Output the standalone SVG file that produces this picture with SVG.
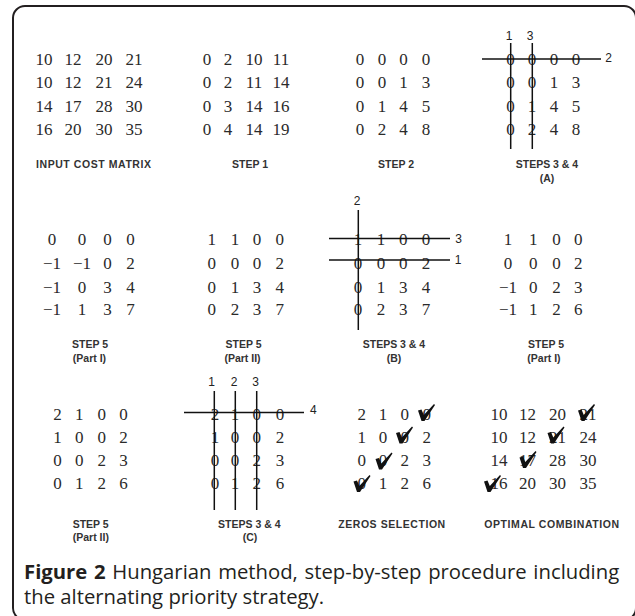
<svg xmlns="http://www.w3.org/2000/svg" xmlns:xlink="http://www.w3.org/1999/xlink" width="635" height="616" viewBox="0 0 635 616">
<style>
.m{font-family:"Liberation Serif","Times New Roman",serif;font-size:17px;fill:#2a2a2a;text-anchor:middle}
.lb{font-family:"Liberation Sans",Arial,sans-serif;font-size:10.5px;font-weight:bold;fill:#333;text-anchor:middle}
.n{font-family:"Liberation Sans",Arial,sans-serif;font-size:12px;fill:#222;text-anchor:middle}
.ln{stroke:#111;stroke-width:1.5;fill:none}
.cap{font-family:"Open Sans","Noto Sans",sans-serif;font-size:20.3px;fill:#231f20}
</style>
<defs>
<path id="chk" d="M-5.5,-9 L-2,-10 L0.3,-4.5 L10.5,-15.5 L11.5,-14.5 L1,1.5 L-2,1.5 Z" fill="#111"/>
</defs>
<rect x="0" y="0" width="635" height="616" fill="#fff"/>
<rect id="frame" x="13" y="6" width="623" height="614" rx="12" ry="12" fill="none" stroke="#231f20" stroke-width="2"/>

<g id="input-cost-matrix">
<text class="m" x="44" y="65">10</text><text class="m" x="73" y="65">12</text><text class="m" x="104" y="65">20</text><text class="m" x="134" y="65">21</text>
<text class="m" x="44" y="88">10</text><text class="m" x="73" y="88">12</text><text class="m" x="104" y="88">21</text><text class="m" x="134" y="88">24</text>
<text class="m" x="44" y="111.5">14</text><text class="m" x="73" y="111.5">17</text><text class="m" x="104" y="111.5">28</text><text class="m" x="134" y="111.5">30</text>
<text class="m" x="44" y="135">16</text><text class="m" x="73" y="135">20</text><text class="m" x="104" y="135">30</text><text class="m" x="134" y="135">35</text>
<text class="lb" x="93.5" y="168" textLength="115">INPUT COST MATRIX</text>
</g>

<g id="step1">
<text class="m" x="207" y="65">0</text><text class="m" x="228" y="65">2</text><text class="m" x="254" y="65">10</text><text class="m" x="281" y="65">11</text>
<text class="m" x="207" y="88">0</text><text class="m" x="228" y="88">2</text><text class="m" x="254" y="88">11</text><text class="m" x="281" y="88">14</text>
<text class="m" x="207" y="111.5">0</text><text class="m" x="228" y="111.5">3</text><text class="m" x="254" y="111.5">14</text><text class="m" x="281" y="111.5">16</text>
<text class="m" x="207" y="135">0</text><text class="m" x="228" y="135">4</text><text class="m" x="254" y="135">14</text><text class="m" x="281" y="135">19</text>
<text class="lb" x="250" y="168">STEP 1</text>
</g>

<g id="step2">
<text class="m" x="360" y="65">0</text><text class="m" x="382" y="65">0</text><text class="m" x="403.5" y="65">0</text><text class="m" x="426" y="65">0</text>
<text class="m" x="360" y="88">0</text><text class="m" x="382" y="88">0</text><text class="m" x="403.5" y="88">1</text><text class="m" x="426" y="88">3</text>
<text class="m" x="360" y="111.5">0</text><text class="m" x="382" y="111.5">1</text><text class="m" x="403.5" y="111.5">4</text><text class="m" x="426" y="111.5">5</text>
<text class="m" x="360" y="135">0</text><text class="m" x="382" y="135">2</text><text class="m" x="403.5" y="135">4</text><text class="m" x="426" y="135">8</text>
<text class="lb" x="396" y="168">STEP 2</text>
</g>

<g id="steps34a">
<text class="m" x="510.5" y="65">0</text><text class="m" x="532" y="65">0</text><text class="m" x="554" y="65">0</text><text class="m" x="576" y="65">0</text>
<text class="m" x="510.5" y="88">0</text><text class="m" x="532" y="88">0</text><text class="m" x="554" y="88">1</text><text class="m" x="576" y="88">3</text>
<text class="m" x="510.5" y="111.5">0</text><text class="m" x="532" y="111.5">1</text><text class="m" x="554" y="111.5">4</text><text class="m" x="576" y="111.5">5</text>
<text class="m" x="510.5" y="135">0</text><text class="m" x="532" y="135">2</text><text class="m" x="554" y="135">4</text><text class="m" x="576" y="135">8</text>
<text class="n" x="509" y="39.5">1</text><text class="n" x="530" y="39.5">3</text><text class="n" x="608.5" y="62">2</text>
<text class="lb" x="547" y="168">STEPS 3 &amp; 4</text>
<text class="lb" x="547" y="182">(A)</text>
</g>

<g id="step5-part1-a">
<text class="m" x="52" y="245">0</text><text class="m" x="82" y="245">0</text><text class="m" x="107.5" y="245">0</text><text class="m" x="130.5" y="245">0</text>
<text class="m" x="52" y="269">−1</text><text class="m" x="82" y="269">−1</text><text class="m" x="107.5" y="269">0</text><text class="m" x="130.5" y="269">2</text>
<text class="m" x="52" y="292.5">−1</text><text class="m" x="82" y="292.5">0</text><text class="m" x="107.5" y="292.5">3</text><text class="m" x="130.5" y="292.5">4</text>
<text class="m" x="52" y="315">−1</text><text class="m" x="82" y="315">1</text><text class="m" x="107.5" y="315">3</text><text class="m" x="130.5" y="315">7</text>
<text class="lb" x="90" y="348">STEP 5</text>
<text class="lb" x="89.5" y="361.5">(Part I)</text>
</g>

<g id="step5-part2-a">
<text class="m" x="211.7" y="245">1</text><text class="m" x="235" y="245">1</text><text class="m" x="257" y="245">0</text><text class="m" x="279.7" y="245">0</text>
<text class="m" x="211.7" y="269">0</text><text class="m" x="235" y="269">0</text><text class="m" x="257" y="269">0</text><text class="m" x="279.7" y="269">2</text>
<text class="m" x="211.7" y="292.5">0</text><text class="m" x="235" y="292.5">1</text><text class="m" x="257" y="292.5">3</text><text class="m" x="279.7" y="292.5">4</text>
<text class="m" x="211.7" y="315">0</text><text class="m" x="235" y="315">2</text><text class="m" x="257" y="315">3</text><text class="m" x="279.7" y="315">7</text>
<text class="lb" x="243.5" y="348">STEP 5</text>
<text class="lb" x="242.5" y="361.5">(Part II)</text>
</g>

<g id="steps34b">
<text class="m" x="358" y="245">1</text><text class="m" x="381" y="245">1</text><text class="m" x="403.3" y="245">0</text><text class="m" x="426" y="245">0</text>
<text class="m" x="358" y="269">0</text><text class="m" x="381" y="269">0</text><text class="m" x="403.3" y="269">0</text><text class="m" x="426" y="269">2</text>
<text class="m" x="358" y="292.5">0</text><text class="m" x="381" y="292.5">1</text><text class="m" x="403.3" y="292.5">3</text><text class="m" x="426" y="292.5">4</text>
<text class="m" x="358" y="315">0</text><text class="m" x="381" y="315">2</text><text class="m" x="403.3" y="315">3</text><text class="m" x="426" y="315">7</text>
<text class="n" x="357" y="205">2</text><text class="n" x="458.5" y="242.5">3</text><text class="n" x="458" y="263.5">1</text>
<text class="lb" x="394" y="348">STEPS 3 &amp; 4</text>
<text class="lb" x="394" y="361.5">(B)</text>
</g>

<g id="step5-part1-b">
<text class="m" x="508" y="245">1</text><text class="m" x="533.3" y="245">1</text><text class="m" x="556.5" y="245">0</text><text class="m" x="578.3" y="245">0</text>
<text class="m" x="508" y="269">0</text><text class="m" x="533.3" y="269">0</text><text class="m" x="556.5" y="269">0</text><text class="m" x="578.3" y="269">2</text>
<text class="m" x="508" y="292.5">−1</text><text class="m" x="533.3" y="292.5">0</text><text class="m" x="556.5" y="292.5">2</text><text class="m" x="578.3" y="292.5">3</text>
<text class="m" x="508" y="315">−1</text><text class="m" x="533.3" y="315">1</text><text class="m" x="556.5" y="315">2</text><text class="m" x="578.3" y="315">6</text>
<text class="lb" x="546" y="348">STEP 5</text>
<text class="lb" x="544" y="361.5">(Part I)</text>
</g>

<g id="step5-part2-b">
<text class="m" x="57.5" y="420">2</text><text class="m" x="79.3" y="420">1</text><text class="m" x="101.7" y="420">0</text><text class="m" x="123.5" y="420">0</text>
<text class="m" x="57.5" y="442.5">1</text><text class="m" x="79.3" y="442.5">0</text><text class="m" x="101.7" y="442.5">0</text><text class="m" x="123.5" y="442.5">2</text>
<text class="m" x="57.5" y="466">0</text><text class="m" x="79.3" y="466">0</text><text class="m" x="101.7" y="466">2</text><text class="m" x="123.5" y="466">3</text>
<text class="m" x="57.5" y="489">0</text><text class="m" x="79.3" y="489">1</text><text class="m" x="101.7" y="489">2</text><text class="m" x="123.5" y="489">6</text>
<text class="lb" x="90.7" y="528">STEP 5</text>
<text class="lb" x="90.8" y="540.5">(Part II)</text>
</g>

<g id="steps34c">
<text class="m" x="215" y="420">2</text><text class="m" x="235" y="420">1</text><text class="m" x="256.7" y="420">0</text><text class="m" x="280" y="420">0</text>
<text class="m" x="215" y="442.5">1</text><text class="m" x="235" y="442.5">0</text><text class="m" x="256.7" y="442.5">0</text><text class="m" x="280" y="442.5">2</text>
<text class="m" x="215" y="466">0</text><text class="m" x="235" y="466">0</text><text class="m" x="256.7" y="466">2</text><text class="m" x="280" y="466">3</text>
<text class="m" x="215" y="489">0</text><text class="m" x="235" y="489">1</text><text class="m" x="256.7" y="489">2</text><text class="m" x="280" y="489">6</text>
<text class="n" x="211.5" y="386">1</text><text class="n" x="234" y="386">2</text><text class="n" x="255.7" y="386">3</text><text class="n" x="313.3" y="414">4</text>
<text class="lb" x="249.3" y="528">STEPS 3 &amp; 4</text>
<text class="lb" x="250" y="540.5">(C)</text>
</g>

<g id="zeros-selection">
<text class="m" x="361.7" y="420">2</text><text class="m" x="383" y="420">1</text><text class="m" x="404.7" y="420">0</text><text class="m" x="426.7" y="420">0</text>
<text class="m" x="361.7" y="442.5">1</text><text class="m" x="383" y="442.5">0</text><text class="m" x="404.7" y="442.5">0</text><text class="m" x="426.7" y="442.5">2</text>
<text class="m" x="361.7" y="466">0</text><text class="m" x="383" y="466">0</text><text class="m" x="404.7" y="466">2</text><text class="m" x="426.7" y="466">3</text>
<text class="m" x="361.7" y="489">0</text><text class="m" x="383" y="489">1</text><text class="m" x="404.7" y="489">2</text><text class="m" x="426.7" y="489">6</text>
<use xlink:href="#chk" href="#chk" x="423.5" y="419.5"/>
<use xlink:href="#chk" href="#chk" x="401.5" y="442"/>
<use xlink:href="#chk" href="#chk" x="381" y="468"/>
<use xlink:href="#chk" href="#chk" x="359" y="490.5"/>
<text class="lb" x="391.7" y="528" textLength="107">ZEROS SELECTION</text>
</g>

<g id="optimal-combination">
<text class="m" x="499" y="420">10</text><text class="m" x="527.5" y="420">12</text><text class="m" x="557.5" y="420">20</text><text class="m" x="588" y="420">21</text>
<text class="m" x="499" y="442.5">10</text><text class="m" x="527.5" y="442.5">12</text><text class="m" x="557.5" y="442.5">21</text><text class="m" x="588" y="442.5">24</text>
<text class="m" x="499" y="466">14</text><text class="m" x="527.5" y="466">17</text><text class="m" x="557.5" y="466">28</text><text class="m" x="588" y="466">30</text>
<text class="m" x="499" y="489">16</text><text class="m" x="527.5" y="489">20</text><text class="m" x="557.5" y="489">30</text><text class="m" x="588" y="489">35</text>
<use xlink:href="#chk" href="#chk" x="583.5" y="419.5"/>
<use xlink:href="#chk" href="#chk" x="553" y="442"/>
<use xlink:href="#chk" href="#chk" x="525" y="466.5"/>
<use xlink:href="#chk" href="#chk" x="489.5" y="490.5"/>
<text class="lb" x="551.7" y="528" textLength="135">OPTIMAL COMBINATION</text>
</g>

<g id="connectors">
<line class="ln" x1="510.7" y1="43" x2="510.7" y2="149"/>
<line class="ln" x1="532.3" y1="43" x2="532.3" y2="149"/>
<line class="ln" x1="482" y1="59" x2="601" y2="59"/>
<line class="ln" x1="358.3" y1="210" x2="358.3" y2="330"/>
<line class="ln" x1="329" y1="238.5" x2="450" y2="238.5"/>
<line class="ln" x1="329" y1="260" x2="450" y2="260"/>
<line class="ln" x1="214.3" y1="391" x2="214.3" y2="510"/>
<line class="ln" x1="235.3" y1="391" x2="235.3" y2="510"/>
<line class="ln" x1="256.7" y1="391" x2="256.7" y2="510"/>
<line class="ln" x1="184" y1="412.5" x2="304" y2="412.5"/>
</g>

<g id="caption">
<text class="cap" x="24" y="579" word-spacing="1.4"><tspan font-weight="bold">Figure 2</tspan> Hungarian method, step-by-step procedure including</text>
<text class="cap" x="24" y="604">the alternating priority strategy.</text>
</g>
</svg>
